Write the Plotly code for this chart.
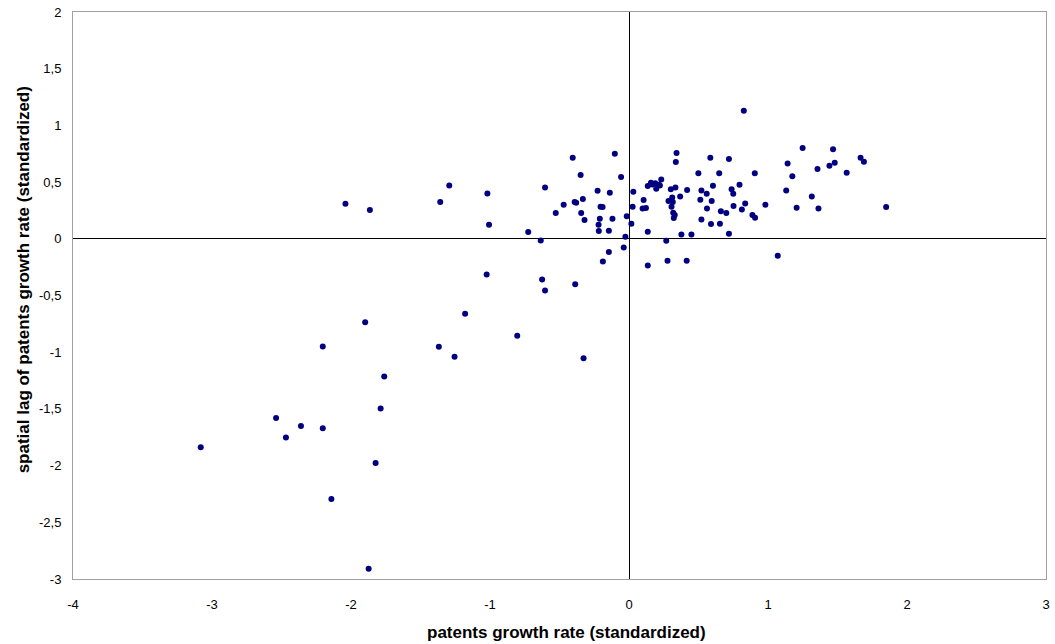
import plotly.graph_objects as go

# patents growth rate (standardized)
growth = [
    -3.081, -2.539, -2.468, -2.360, -2.203, -2.203, -2.141, -2.04, -1.898, -1.873,
    -1.864, -1.823, -1.787, -1.761, -1.368, -1.358, -1.293, -1.255, -1.179, -1.024,
    -1.019, -1.007, -0.804, -0.725, -0.635, -0.625, -0.604, -0.604, -0.527, -0.470,
    -0.405, -0.391, -0.380, -0.387, -0.348, -0.344, -0.332, -0.327, -0.320, -0.226,
    -0.219, -0.217, -0.210, -0.205, -0.190, -0.188, -0.145, -0.145, -0.138, -0.119,
    -0.102, -0.057, -0.038, -0.026, -0.016,
    0.017, 0.026, 0.031, 0.098, 0.105, 0.122, 0.135, 0.135, 0.135, 0.158,
    0.168, 0.189, 0.196, 0.213, 0.222, 0.232, 0.268, 0.277, 0.284, 0.301,
    0.306, 0.311, 0.315, 0.318, 0.329, 0.322, 0.334, 0.337, 0.342, 0.368,
    0.377, 0.415, 0.418, 0.449, 0.499, 0.513, 0.521, 0.521, 0.559, 0.561,
    0.585, 0.590, 0.595, 0.604, 0.649, 0.654, 0.661, 0.700, 0.719, 0.719,
    0.738, 0.750, 0.752, 0.795, 0.812, 0.826, 0.836, 0.888, 0.907, 0.905,
    0.981, 1.070, 1.131, 1.141, 1.175, 1.206, 1.249, 1.315, 1.356, 1.363,
    1.442, 1.468, 1.480, 1.566, 1.666, 1.690, 1.850,
]

# spatial lag of patents growth rate (standardized)
spatial_lag = [
    -1.838, -1.580, -1.753, -1.650, -1.671, -0.950, -2.295, 0.31, -0.735, -2.909,
    0.253, -1.977, -1.497, -1.215, -0.953, 0.324, 0.471, -1.041, -0.662, -0.315,
    0.40, 0.124, -0.856, 0.059, -0.014, -0.359, -0.456, 0.453, 0.227, 0.300,
    0.715, 0.324, 0.318, -0.40, 0.562, 0.227, 0.350, -1.053, 0.165, 0.424,
    0.124, 0.068, 0.177, 0.283, 0.280, -0.20, 0.071, -0.117, 0.406, 0.177,
    0.750, 0.545, -0.076, 0.018, 0.198,
    0.132, 0.283, 0.415, 0.268, 0.342, 0.271, 0.465, 0.062, -0.235, 0.494,
    0.478, 0.489, 0.441, 0.477, 0.470, 0.524, -0.018, -0.194, 0.333, 0.436,
    0.283, 0.365, 0.324, 0.229, 0.209, 0.183, 0.453, 0.677, 0.756, 0.374,
    0.039, -0.194, 0.430, 0.039, 0.577, 0.344, 0.427, 0.171, 0.397, 0.268,
    0.715, 0.130, 0.333, 0.468, 0.577, 0.132, 0.244, 0.227, 0.703, 0.044,
    0.436, 0.397, 0.289, 0.477, 0.259, 1.130, 0.312, 0.209, 0.185, 0.577,
    0.300, -0.150, 0.427, 0.665, 0.551, 0.274, 0.801, 0.374, 0.615, 0.268,
    0.644, 0.789, 0.671, 0.583, 0.715, 0.680, 0.280,
]

x_tick_vals = [-4, -3, -2, -1, 0, 1, 2, 3]
x_tick_text = ["-4", "-3", "-2", "-1", "0", "1", "2", "3"]
y_tick_vals = [-3, -2.5, -2, -1.5, -1, -0.5, 0, 0.5, 1, 1.5, 2]
y_tick_text = ["-3", "-2,5", "-2", "-1,5", "-1", "-0,5", "0", "0,5", "1", "1,5", "2"]

x_title = "patents growth rate (standardized)"
y_title = "spatial lag of patents growth rate (standardized)"

fig = go.Figure()
fig.add_trace(go.Scatter(
    x=growth, y=spatial_lag, mode="markers",
    marker=dict(color="#000080", size=6, line=dict(width=0)),
    showlegend=False,
))

font_family = "Liberation Sans, Arial, sans-serif"
title_font = dict(size=17, family=font_family, weight="bold", color="black")
tick_font = dict(size=13, family=font_family, color="black")

fig.update_layout(
    width=1055, height=644,
    margin=dict(l=73, r=5, t=12, b=65),
    paper_bgcolor="white", plot_bgcolor="white",
    font=dict(family=font_family, size=13, color="black"),
    xaxis=dict(
        range=[-4, 3], tickvals=x_tick_vals, ticktext=x_tick_text, tickfont=tick_font,
        showgrid=False, zeroline=True, zerolinecolor="black", zerolinewidth=1,
        showline=True, mirror=True, linecolor="#a0a0a0", linewidth=1,
        ticks="", ticklabelstandoff=13,
    ),
    yaxis=dict(
        range=[-3, 2], tickvals=y_tick_vals, ticktext=y_tick_text, tickfont=tick_font,
        showgrid=False, zeroline=True, zerolinecolor="black", zerolinewidth=1,
        showline=True, mirror=True, linecolor="#a0a0a0", linewidth=1,
        ticks="", ticklabelstandoff=8,
    ),
    annotations=[
        dict(text=x_title, xref="paper", yref="paper", x=0.5067, y=-0.0935,
             xanchor="center", yanchor="middle", showarrow=False, font=title_font),
        dict(text=y_title, xref="paper", yref="paper", x=-0.0512, y=0.527,
             xanchor="center", yanchor="middle", showarrow=False, textangle=-90,
             font=title_font),
    ],
)

fig.write_html("out.html")
